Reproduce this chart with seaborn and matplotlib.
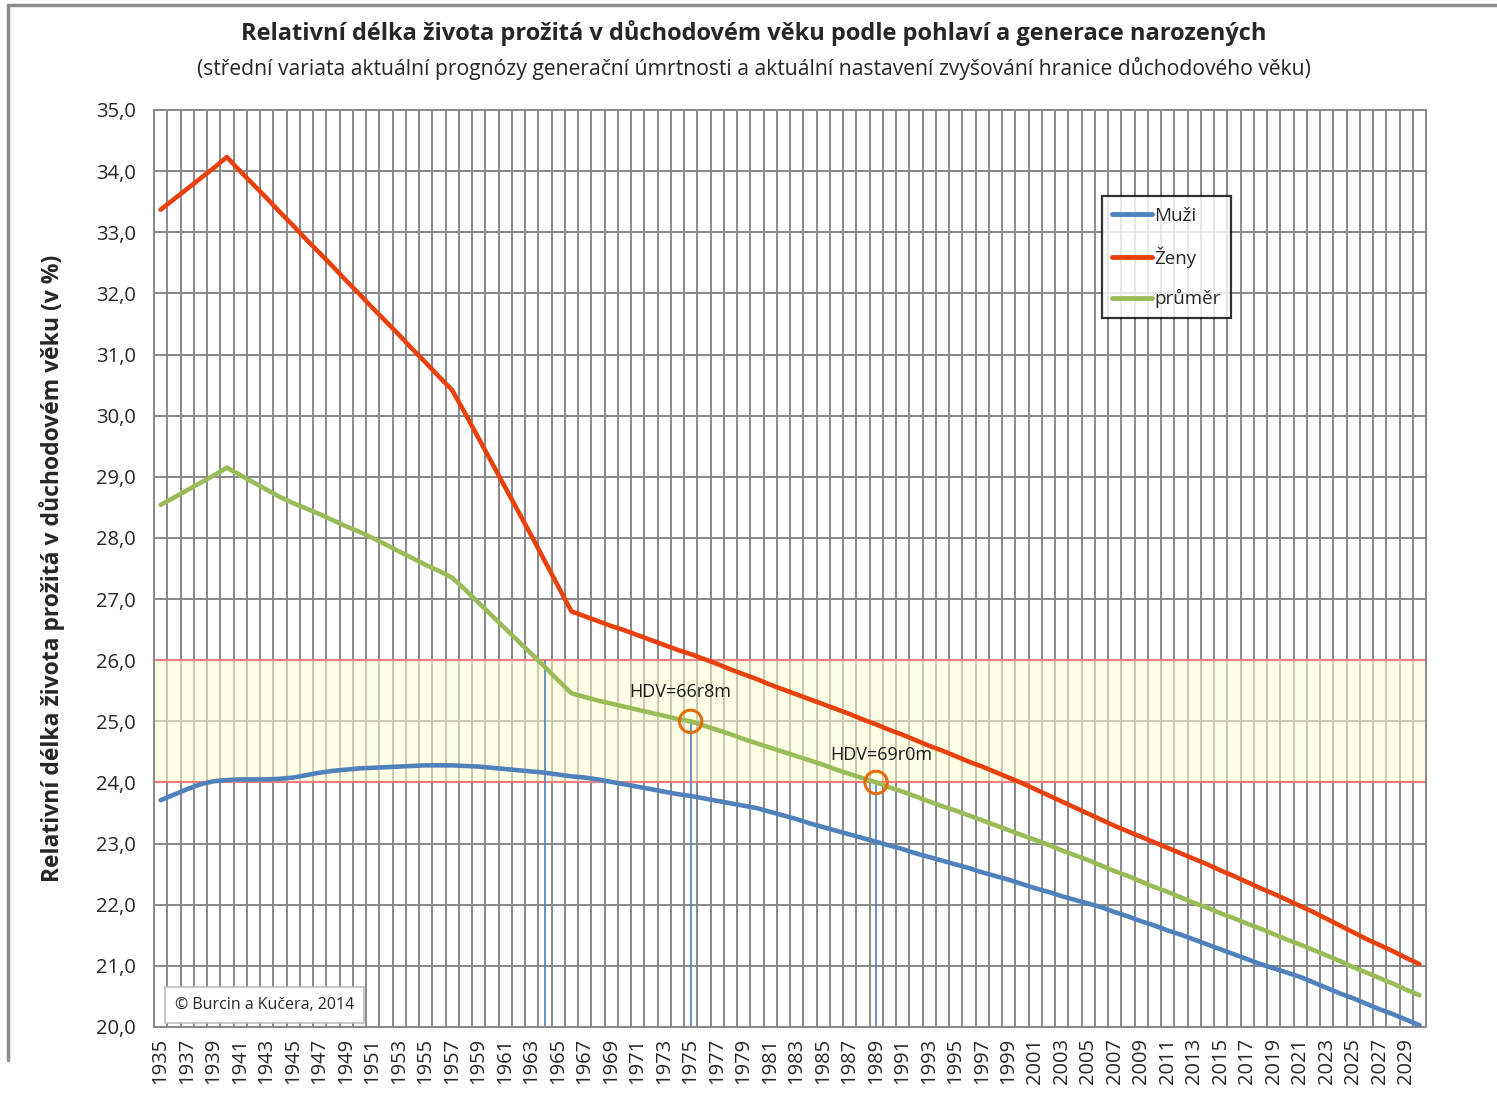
import numpy as np
import pandas as pd
import matplotlib
matplotlib.use("Agg")
import matplotlib.pyplot as plt
import seaborn as sns
from matplotlib.lines import Line2D

# ---------------- data ----------------
years = list(range(1935, 2031))

muzi = [23.71, 23.80, 23.89, 23.97, 24.02, 24.04, 24.05, 24.05, 24.05, 24.06,
        24.08, 24.12, 24.16, 24.19, 24.21, 24.23, 24.24, 24.25, 24.26, 24.27,
        24.28, 24.28, 24.28, 24.27, 24.26, 24.24, 24.22, 24.20, 24.18, 24.16,
        24.13, 24.10, 24.08, 24.05, 24.01, 23.97, 23.93, 23.89, 23.85, 23.81,
        23.78, 23.74, 23.70, 23.66, 23.62, 23.58, 23.52, 23.46, 23.40, 23.33,
        23.27, 23.21, 23.15, 23.09, 23.03, 22.97, 22.91, 22.84, 22.78, 22.72,
        22.66, 22.60, 22.53, 22.47, 22.41, 22.34, 22.27, 22.21, 22.14, 22.08,
        22.02, 21.96, 21.88, 21.81, 21.73, 21.66, 21.58, 21.51, 21.43, 21.35,
        21.27, 21.19, 21.11, 21.03, 20.96, 20.89, 20.82, 20.73, 20.64, 20.55,
        20.47, 20.38, 20.29, 20.21, 20.12, 20.03]

zeny = [33.37, 33.54, 33.71, 33.88, 34.05, 34.23, 34.00, 33.78, 33.56, 33.33,
        33.11, 32.88, 32.66, 32.44, 32.21, 31.99, 31.76, 31.54, 31.32, 31.09,
        30.87, 30.64, 30.42, 30.03, 29.63, 29.23, 28.83, 28.43, 28.03, 27.62,
        27.21, 26.80, 26.72, 26.64, 26.56, 26.49, 26.41, 26.33, 26.25, 26.17,
        26.10, 26.02, 25.94, 25.85, 25.77, 25.69, 25.60, 25.52, 25.44, 25.36,
        25.28, 25.20, 25.12, 25.03, 24.95, 24.86, 24.78, 24.69, 24.60, 24.52,
        24.43, 24.34, 24.26, 24.17, 24.08, 23.99, 23.89, 23.79, 23.69, 23.59,
        23.49, 23.39, 23.29, 23.20, 23.11, 23.02, 22.93, 22.84, 22.75, 22.66,
        22.56, 22.47, 22.37, 22.27, 22.18, 22.08, 21.98, 21.88, 21.77, 21.66,
        21.55, 21.44, 21.34, 21.24, 21.13, 21.03]

prumer = [28.54, 28.66, 28.78, 28.90, 29.02, 29.15, 29.03, 28.91, 28.79, 28.67,
          28.57, 28.48, 28.39, 28.29, 28.19, 28.10, 28.00, 27.89, 27.78, 27.67,
          27.56, 27.46, 27.35, 27.15, 26.94, 26.73, 26.52, 26.31, 26.10, 25.89,
          25.67, 25.46, 25.40, 25.34, 25.29, 25.24, 25.19, 25.14, 25.09, 25.04,
          25.00, 24.93, 24.86, 24.79, 24.71, 24.64, 24.57, 24.50, 24.43, 24.36,
          24.29, 24.21, 24.14, 24.07, 24.00, 23.92, 23.85, 23.77, 23.69, 23.61,
          23.54, 23.46, 23.38, 23.30, 23.22, 23.14, 23.06, 22.98, 22.89, 22.81,
          22.73, 22.64, 22.55, 22.47, 22.38, 22.29, 22.21, 22.12, 22.03, 21.95,
          21.86, 21.78, 21.69, 21.61, 21.52, 21.43, 21.35, 21.26, 21.17, 21.08,
          20.98, 20.89, 20.80, 20.71, 20.61, 20.52]

series_names = ["Muži", "Ženy", "průměr"]
series_colors = ["#4F81BD", "#E8410D", "#9BBB59"]

band_low, band_high = 24.0, 26.0
drop_years = [1964, 1975, 1989]
drop_levels = [26.0, 25.0, 24.0]
hdv_years = [1975, 1989]
hdv_levels = [25.0, 24.0]
hdv_labels = ["HDV=66r8m", "HDV=69r0m"]
hdv_label_pos = [(1970.4, 25.48), (1985.5, 24.45)]

title = "Relativní délka života prožitá v důchodovém věku podle pohlaví a generace narozených"
subtitle = "(střední variata aktuální prognózy generační úmrtnosti a aktuální nastavení zvyšování hranice důchodového věku)"
ylabel = "Relativní délka života prožitá v důchodovém věku (v %)"
credit = "© Burcin a Kučera, 2014"

# ---------------- style ----------------
sns.set_theme(style="white")
FONT = ["Open Sans", "DejaVu Sans"]
plt.rcParams["font.family"] = FONT

df = pd.DataFrame({
    "rok": years * 3,
    "hodnota": muzi + zeny + prumer,
    "serie": [series_names[0]] * len(years) + [series_names[1]] * len(years) + [series_names[2]] * len(years),
})

fig = plt.figure(figsize=(14.97, 11.04), dpi=100)
ax = fig.add_axes([154 / 1497, 1 - 1027 / 1104, (1426 - 154) / 1497, (1027 - 110) / 1104])

# band
ax.axhspan(band_low, band_high, color="#FFFFD0", alpha=0.55, zorder=1, lw=0)
ax.axhline(band_low, color="#F08080", lw=1.6, zorder=2)
ax.axhline(band_high, color="#F08080", lw=1.6, zorder=2)

# drop lines
ax.vlines(drop_years, [20.0] * len(drop_years), drop_levels, color="#4F81BD", lw=1.2, zorder=2.5)

sns.lineplot(data=df, x="rok", y="hodnota", hue="serie", hue_order=series_names,
             palette=series_colors, lw=3.3, ax=ax, legend=False, zorder=3)

# circles
ax.scatter(hdv_years, hdv_levels, s=260, facecolors="none", edgecolors="#E46C0A",
           linewidths=2.2, zorder=4)
for lab, (lx, ly) in zip(hdv_labels, hdv_label_pos):
    ax.text(lx, ly, lab, fontsize=13, ha="left", va="center", color="#1a1a1a", zorder=5)

# axes
ax.set_xlim(1934.5, 2030.5)
ax.set_ylim(20, 35)
ax.set_xticks(years[::2])
ax.set_xticklabels([str(y) for y in years[::2]], rotation=90, fontsize=14.5)
ax.set_xticks(np.arange(1934.5, 2031.0, 1.0), minor=True)
ax.set_yticks(np.arange(20, 35.5, 1.0))
ax.set_yticklabels([f"{v:.1f}".replace(".", ",") for v in np.arange(20, 35.5, 1.0)], fontsize=14.5)
ax.tick_params(axis="y", which="both", length=0, pad=13)
ax.tick_params(axis="x", which="both", length=0, pad=8)
ax.grid(False)
ax.grid(which="minor", axis="x", color="#888888", lw=1.4, zorder=0.5)
ax.grid(which="major", axis="y", color="#888888", lw=1.4, zorder=0.5)
ax.set_axisbelow(True)
for s in ax.spines.values():
    s.set_color("#888888")
    s.set_linewidth(1.4)
ax.set_xlabel("")
ax.set_ylabel(ylabel, fontsize=16.5, fontweight="bold", labelpad=22)

# legend
handles = [Line2D([0], [0], color=c, lw=3.5) for c in series_colors]
leg = ax.legend(handles, series_names, loc="upper left", bbox_to_anchor=(0.745, 0.906),
                frameon=True, fancybox=False, edgecolor="black", fontsize=13.5,
                handlelength=2.15, handletextpad=0.1, labelspacing=1.15,
                borderpad=0.55, borderaxespad=0)
leg.get_frame().set_linewidth(1.6)
leg.set_zorder(6)

# credit box
ax.text(0.087, 0.024, credit, transform=ax.transAxes, fontsize=11.5, ha="center", va="center",
        zorder=6, bbox=dict(boxstyle="square,pad=0.6", fc="white", ec="#BFBFBF", lw=1.2))

# titles
fig.text(754 / 1497, 1 - 33 / 1104, title, ha="center", va="center", fontsize=17, fontweight="bold")
fig.text(754 / 1497, 1 - 68 / 1104, subtitle, ha="center", va="center", fontsize=15.2)

# frame of the original slide
fig.add_artist(Line2D([8 / 1497, 1.0], [1 - 5 / 1104, 1 - 5 / 1104], color="#8c8c8c", lw=2.5,
                      transform=fig.transFigure))
fig.add_artist(Line2D([8 / 1497, 8 / 1497], [1 - 5 / 1104, 1 - 1060 / 1104], color="#8c8c8c", lw=2.5,
                      transform=fig.transFigure))

fig.savefig("out.png", dpi=100, facecolor="white")
